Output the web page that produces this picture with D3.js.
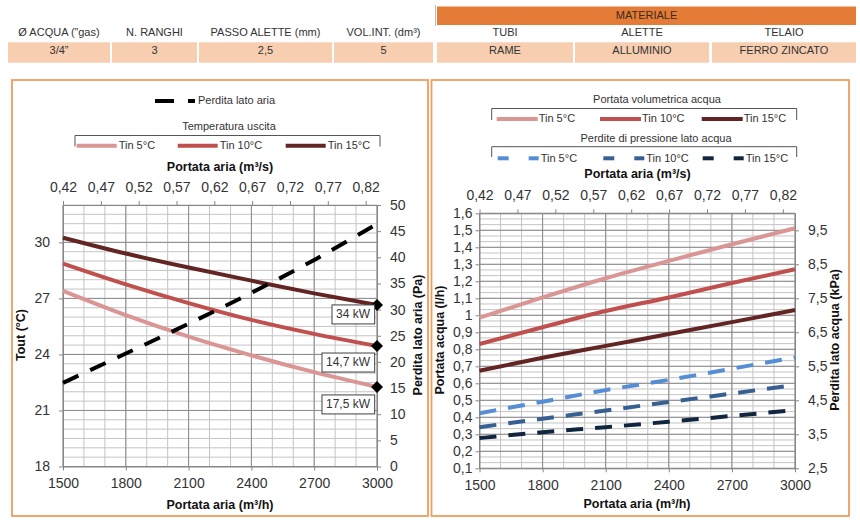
<!DOCTYPE html>
<html><head><meta charset="utf-8">
<script src="https://cdn.jsdelivr.net/npm/d3@7"></script>
<style>
body{margin:0;background:#fff}
svg{display:block;font-family:"Liberation Sans",Arial,sans-serif}
</style>
</head><body>
<svg id="c" width="860" height="520"></svg>
<script>
// ---------- data ----------
const headerLabels = ["Ø ACQUA (”gas)", "N. RANGHI", "PASSO ALETTE (mm)", "VOL.INT. (dm³)", "TUBI", "ALETTE", "TELAIO"];
const headerValues = ["3/4”", "3", "2,5", "5", "RAME", "ALLUMINIO", "FERRO ZINCATO"];
const headerGroup = "MATERIALE";

const airFlow = [1500, 1800, 2100, 2400, 2700, 3000];
const airFlowTicks = [1500, 1800, 2100, 2400, 2700, 3000];
const airFlowM3sTicks = [0.42, 0.47, 0.52, 0.57, 0.62, 0.67, 0.72, 0.77, 0.82];
const seriesNames = ["Tin 5°C", "Tin 10°C", "Tin 15°C"];

const toutTin5  = [27.4, 26.1, 24.95, 23.95, 23.05, 22.26];
const toutTin10 = [28.86, 27.75, 26.75, 25.85, 25.1, 24.45];
const toutTin15 = [30.25, 29.4, 28.65, 27.95, 27.27, 26.65];
const airPressureDrop = [16.0, 21.6, 27.3, 33.2, 39.5, 46.4];
const capacityLabels = ["17,5 kW", "14,7 kW", "34 kW"]; // Tin5, Tin10, Tin15 end points
const toutTicks = [18, 21, 24, 27, 30];
const airDropTicks = [0, 5, 10, 15, 20, 25, 30, 35, 40, 45, 50];

const waterTin5  = [0.986, 1.105, 1.218, 1.32, 1.418, 1.512];
const waterTin10 = [0.831, 0.93, 1.025, 1.105, 1.19, 1.271];
const waterTin15 = [0.674, 0.75, 0.82, 0.89, 0.96, 1.031];
const dpTin5  = [4.12, 4.46, 4.80, 5.10, 5.43, 5.76];
const dpTin10 = [3.71, 3.96, 4.20, 4.45, 4.70, 4.95];
const dpTin15 = [3.39, 3.56, 3.71, 3.87, 4.04, 4.21];
const waterTicks = [0.1, 0.2, 0.3, 0.4, 0.5, 0.6, 0.7, 0.8, 0.9, 1, 1.1, 1.2, 1.3, 1.4, 1.5, 1.6];
const dpTicks = [2.5, 3.5, 4.5, 5.5, 6.5, 7.5, 8.5, 9.5];

// ---------- style ----------
const redCols = ["#DA9694", "#C0504D", "#632523"];
const blueCols = ["#558ED5", "#376092", "#10253F"];
const txt = "#333";
const fmt = d => String(d).replace(".", ",");
const plain = d => String(d);
const svg = d3.select("#c");

// ---------- header table ----------
const colX = [8, 112, 199, 334, 437, 575, 712];
const colR = [110, 197, 332, 433, 573, 709, 856];
const hdr = svg.append("g");
hdr.append("rect").attr("x", 437).attr("y", 6.5).attr("width", 419).attr("height", 18.5).attr("fill", "#E47C37");
hdr.append("line").attr("x1", 435.5).attr("x2", 435.5).attr("y1", 5).attr("y2", 26).attr("stroke", "#bbb");
hdr.append("text").attr("x", (437 + 856) / 2).attr("y", 16).attr("text-anchor", "middle")
  .attr("dominant-baseline", "middle").attr("font-size", 11).attr("fill", "#3a2a20").text(headerGroup);
headerLabels.forEach((l, i) => {
  const cx = (colX[i] + colR[i]) / 2;
  hdr.append("text").attr("x", cx).attr("y", 33).attr("text-anchor", "middle")
    .attr("dominant-baseline", "middle").attr("font-size", 11).attr("fill", txt).text(l);
  hdr.append("rect").attr("x", colX[i]).attr("y", 42.3).attr("width", colR[i] - colX[i]).attr("height", 20.4).attr("fill", "#F7CEB0");
  hdr.append("text").attr("x", cx).attr("y", 51).attr("text-anchor", "middle")
    .attr("dominant-baseline", "middle").attr("font-size", 11).attr("fill", txt).text(headerValues[i]);
});

// ---------- panels ----------
svg.append("rect").attr("x", 12).attr("y", 80).attr("width", 416).attr("height", 436)
  .attr("fill", "none").attr("stroke", "#EE9E5E").attr("stroke-width", 1.8);
svg.append("rect").attr("x", 431.5).attr("y", 80).attr("width", 417.5).attr("height", 436)
  .attr("fill", "none").attr("stroke", "#EE9E5E").attr("stroke-width", 1.8);

function grid(g, x, y, xMinor, xMajor, yMinor, yMajor) {
  const [x0, x1] = x.range(), [y0, y1] = y.range();
  const gg = g.append("g");
  xMinor.forEach(v => gg.append("line").attr("x1", x(v)).attr("x2", x(v)).attr("y1", y0).attr("y2", y1).attr("stroke", "#c4c4c4"));
  yMinor.forEach(v => gg.append("line").attr("y1", y(v)).attr("y2", y(v)).attr("x1", x0).attr("x2", x1).attr("stroke", "#c4c4c4"));
  xMajor.forEach(v => gg.append("line").attr("x1", x(v)).attr("x2", x(v)).attr("y1", y0).attr("y2", y1).attr("stroke", "#8a8a8a"));
  yMajor.forEach(v => gg.append("line").attr("y1", y(v)).attr("y2", y(v)).attr("x1", x0).attr("x2", x1).attr("stroke", "#8a8a8a"));
}
function styleAxis(a, fs) {
  a.select(".domain").attr("stroke", "#868686");
  a.selectAll(".tick line").attr("stroke", "#868686");
  a.selectAll(".tick text").attr("fill", txt).attr("font-size", fs).attr("font-family", "Liberation Sans, Arial, sans-serif");
}
function boldText(g, x, y, t, rot) {
  const e = g.append("text").attr("font-weight", "bold").attr("font-size", 12.5).attr("fill", "#111")
    .attr("text-anchor", "middle").attr("dominant-baseline", "middle").text(t);
  if (rot) e.attr("transform", `translate(${x},${y}) rotate(-90)`); else e.attr("x", x).attr("y", y);
  return e;
}
function lbl(g, x, y, t, anchor) {
  return g.append("text").attr("x", x).attr("y", y).attr("font-size", 11).attr("fill", txt)
    .attr("text-anchor", anchor || "start").attr("dominant-baseline", "middle").text(t);
}

// ---------- LEFT CHART ----------
{
  const g = svg.append("g");
  const x = d3.scaleLinear().domain([1500, 3000]).range([63, 377]);
  const xs = d3.scaleLinear().domain([0.42, 0.835]).range([63, 377]);
  const y = d3.scaleLinear().domain([18, 32]).range([466.5, 205]);
  const yR = d3.scaleLinear().domain([0, 50]).range([466.5, 205]);
  grid(g, x, y, d3.range(1500, 3001, 100), airFlowTicks, d3.range(18, 32.01, 0.5), toutTicks);

  styleAxis(g.append("g").attr("transform", "translate(0,466.5)")
    .call(d3.axisBottom(x).tickValues(airFlowTicks).tickFormat(plain).tickSize(4).tickSizeOuter(0).tickPadding(8)), 14);
  styleAxis(g.append("g").attr("transform", "translate(0,205)")
    .call(d3.axisTop(xs).tickValues(airFlowM3sTicks).tickFormat(fmt).tickSize(4).tickSizeOuter(0).tickPadding(9)), 14);
  styleAxis(g.append("g").attr("transform", "translate(63,0)")
    .call(d3.axisLeft(y).tickValues(toutTicks).tickFormat(plain).tickSize(4).tickSizeOuter(0).tickPadding(9)), 14);
  styleAxis(g.append("g").attr("transform", "translate(377,0)")
    .call(d3.axisRight(yR).tickValues(airDropTicks).tickFormat(plain).tickSize(4).tickSizeOuter(0).tickPadding(9)), 14);

  const line = d3.line().x((d, i) => x(airFlow[i])).y(d => y(d)).curve(d3.curveMonotoneX);
  const lineR = d3.line().x((d, i) => x(airFlow[i])).y(d => yR(d)).curve(d3.curveMonotoneX);
  const tout = [toutTin5, toutTin10, toutTin15];
  tout.forEach((s, k) => g.append("path").attr("d", line(s)).attr("fill", "none")
    .attr("stroke", redCols[k]).attr("stroke-width", 4));
  g.append("path").attr("d", lineR(airPressureDrop)).attr("fill", "none").attr("stroke", "#000")
    .attr("stroke-width", 4).attr("stroke-dasharray", "17,13");

  const boxDy = [8, 7, 0];
  tout.forEach((s, k) => {
    const px = x(airFlow[airFlow.length - 1]), py = y(s[s.length - 1]);
    g.append("path").attr("d", d3.symbol(d3.symbolSquare, 72)()).attr("transform", `translate(${px},${py}) rotate(45)`).attr("fill", "#000");
    const t = g.append("text").attr("font-size", 12).attr("fill", txt).attr("text-anchor", "end")
      .attr("dominant-baseline", "middle").attr("x", px - 7).attr("y", py + boxDy[k] + 9.5).text(capacityLabels[k]);
    const bb = t.node().getBBox();
    g.insert("rect", () => t.node()).attr("x", bb.x - 4).attr("y", py + boxDy[k]).attr("width", bb.width + 8)
      .attr("height", 19).attr("fill", "#fff").attr("stroke", "#404040");
  });

  boldText(g, 22, 335, "Tout (°C)", true);
  boldText(g, 419, 335, "Perdita lato aria (Pa)", true);
  boldText(g, 220, 505.5, "Portata aria (m³/h)");
  boldText(g, 220, 168, "Portata aria (m³/s)");

  // legends
  g.append("line").attr("x1", 155).attr("x2", 174).attr("y1", 101).attr("y2", 101).attr("stroke", "#000").attr("stroke-width", 4);
  g.append("line").attr("x1", 188).attr("x2", 195).attr("y1", 101).attr("y2", 101).attr("stroke", "#000").attr("stroke-width", 4);
  lbl(g, 198, 101.5, "Perdita lato aria");
  lbl(g, 229, 127.5, "Temperatura uscita", "middle");
  g.append("path").attr("d", "M75,146.5V135.5H380V146.5").attr("fill", "none").attr("stroke", "#555");
  [76.7, 177.7, 285.7].forEach((lx, k) => {
    g.append("line").attr("x1", lx).attr("x2", lx + 40).attr("y1", 145.7).attr("y2", 145.7).attr("stroke", redCols[k]).attr("stroke-width", 4);
    lbl(g, lx + 42, 146.5, seriesNames[k]);
  });
}

// ---------- RIGHT CHART ----------
{
  const g = svg.append("g");
  const x = d3.scaleLinear().domain([1500, 3000]).range([479.5, 795]);
  const xs = d3.scaleLinear().domain([0.42, 0.836]).range([479.5, 795]);
  const y = d3.scaleLinear().domain([0.1, 1.6]).range([468.3, 213.3]);
  const yR = d3.scaleLinear().domain([2.5, 10]).range([468.3, 213.3]);
  grid(g, x, y, d3.range(1500, 3001, 100), airFlowTicks, d3.range(0, 46).map(i => 0.1 + i * 0.1 / 3), waterTicks);

  styleAxis(g.append("g").attr("transform", "translate(0,468.3)")
    .call(d3.axisBottom(x).tickValues(airFlowTicks).tickFormat(plain).tickSize(4).tickSizeOuter(0).tickPadding(8)), 14);
  styleAxis(g.append("g").attr("transform", "translate(0,213.3)")
    .call(d3.axisTop(xs).tickValues(airFlowM3sTicks).tickFormat(fmt).tickSize(4).tickSizeOuter(0).tickPadding(9)), 14);
  styleAxis(g.append("g").attr("transform", "translate(479.5,0)")
    .call(d3.axisLeft(y).tickValues(waterTicks).tickFormat(fmt).tickSize(4).tickSizeOuter(0).tickPadding(3)), 14);
  styleAxis(g.append("g").attr("transform", "translate(795,0)")
    .call(d3.axisRight(yR).tickValues(dpTicks).tickFormat(fmt).tickSize(4).tickSizeOuter(0).tickPadding(9)), 14);

  const line = d3.line().x((d, i) => x(airFlow[i])).y(d => y(d)).curve(d3.curveMonotoneX);
  const lineR = d3.line().x((d, i) => x(airFlow[i])).y(d => yR(d)).curve(d3.curveMonotoneX);
  [waterTin5, waterTin10, waterTin15].forEach((s, k) => g.append("path").attr("d", line(s)).attr("fill", "none")
    .attr("stroke", redCols[k]).attr("stroke-width", 4));
  [dpTin5, dpTin10, dpTin15].forEach((s, k) => g.append("path").attr("d", lineR(s)).attr("fill", "none")
    .attr("stroke", blueCols[k]).attr("stroke-width", 4).attr("stroke-dasharray", "17,12"));

  boldText(g, 441, 340, "Portata acqua (l/h)", true);
  boldText(g, 836, 340, "Perdita lato acqua (kPa)", true);
  boldText(g, 637, 505, "Portata aria (m³/h)");
  boldText(g, 637.5, 175, "Portata aria (m³/s)");

  lbl(g, 657, 100.5, "Portata volumetrica acqua", "middle");
  g.append("path").attr("d", "M491.7,120V108.5H796.7V120").attr("fill", "none").attr("stroke", "#555");
  [496.7, 600, 701.7].forEach((lx, k) => {
    g.append("line").attr("x1", lx).attr("x2", lx + 41).attr("y1", 119).attr("y2", 119).attr("stroke", redCols[k]).attr("stroke-width", 4);
    lbl(g, lx + 42, 119.5, seriesNames[k]);
  });
  lbl(g, 656, 139.5, "Perdite di pressione lato acqua", "middle");
  g.append("path").attr("d", "M491.7,157V146.7H796.7V157").attr("fill", "none").attr("stroke", "#555");
  [497.7, 603.3, 702.7].forEach((lx, k) => {
    g.append("line").attr("x1", lx).attr("x2", lx + 11).attr("y1", 158.3).attr("y2", 158.3).attr("stroke", blueCols[k]).attr("stroke-width", 4);
    g.append("line").attr("x1", lx + 31).attr("x2", lx + 41).attr("y1", 158.3).attr("y2", 158.3).attr("stroke", blueCols[k]).attr("stroke-width", 4);
    lbl(g, lx + 43, 159, seriesNames[k]);
  });
}
</script>
</body></html>
